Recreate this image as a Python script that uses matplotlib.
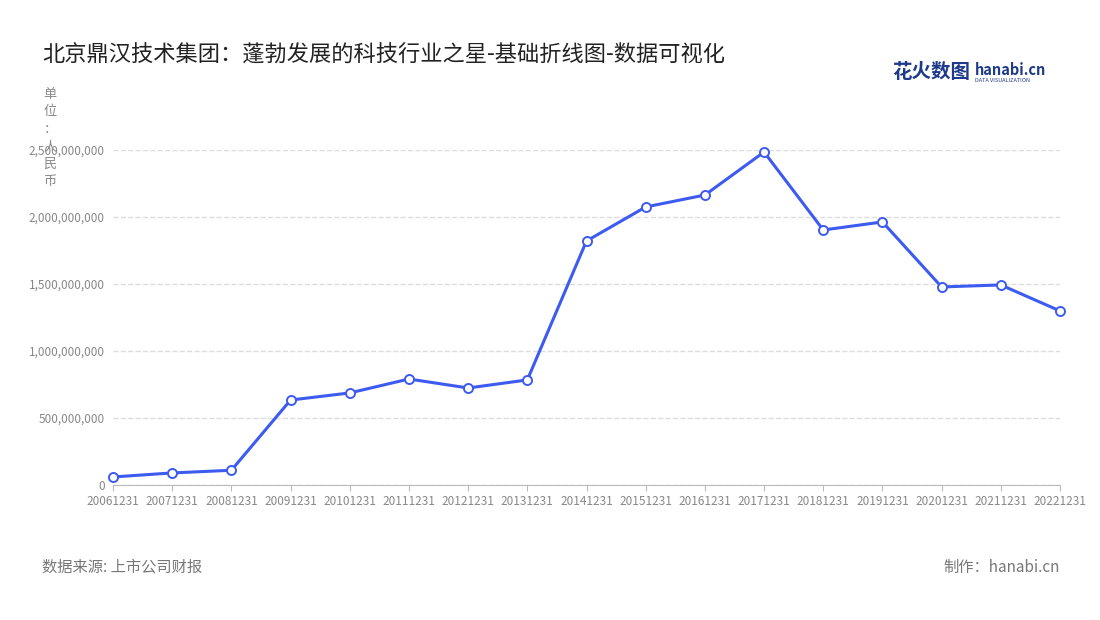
import matplotlib.pyplot as plt

plt.rcParams['font.family'] = ['Noto Sans CJK SC', 'DejaVu Sans']

years = ['20061231', '20071231', '20081231', '20091231', '20101231', '20111231',
         '20121231', '20131231', '20141231', '20151231', '20161231', '20171231',
         '20181231', '20191231', '20201231', '20211231', '20221231']
values = [60e6, 90e6, 110e6, 634e6, 687e6, 791e6, 724e6, 784e6, 1821e6,
          2075e6, 2164e6, 2485e6, 1903e6, 1963e6, 1478e6, 1493e6, 1299e6]
yticks = [0, 500e6, 1000e6, 1500e6, 2000e6, 2500e6]

fig = plt.figure(figsize=(11, 6.2), dpi=100)
ax = fig.add_axes([113 / 1100, 1 - 485 / 620, (1060 - 113) / 1100, (485 - 150) / 620])

x = range(len(years))
ax.plot(x, values, color='#3d5af1', lw=2.2, marker='o', ms=6.5,
        markerfacecolor='white', markeredgecolor='#3d5af1', markeredgewidth=1.4,
        zorder=3, clip_on=False)

ax.set_xlim(0, len(years) - 1)
ax.set_ylim(0, 2500e6)
ax.set_xticks(list(x))
ax.set_xticklabels(years, fontsize=8.5, color='#888888')
ax.set_yticks(yticks)
ax.set_yticklabels([f'{int(v):,}' for v in yticks], fontsize=8.5, color='#888888')
ax.grid(axis='y', color='#dddddd', ls='--', lw=1)
for s in ['top', 'right', 'left']:
    ax.spines[s].set_visible(False)
ax.spines['bottom'].set_color('#bbbbbb')
ax.tick_params(axis='y', length=0, pad=6)
ax.tick_params(axis='x', length=4, color='#bbbbbb', pad=3)

fig.text(42 / 1100, 1 - 55 / 620, '北京鼎汉技术集团：蓬勃发展的科技行业之星-基础折线图-数据可视化',
         fontsize=16, color='#222222', va='center')
fig.text(50 / 1100, 1 - 88 / 620, '单\n位\n：\n人\n民\n币', fontsize=9.5, color='#888888',
         va='top', ha='center', linespacing=1.45)
fig.text(892 / 1100, 1 - 72 / 620, '花火数图', fontsize=14, color='#1f3a8a',
         fontweight='bold', va='center')
fig.text(975 / 1100, 1 - 70 / 620, 'hanabi.cn', fontsize=10.5, color='#1f3a8a',
         fontweight='bold', va='center')
fig.text(975 / 1100, 1 - 80 / 620, 'DATA VISUALIZATION', fontsize=4, color='#1f3a8a',
         va='center')
fig.text(42 / 1100, 1 - 567 / 620, '数据来源: 上市公司财报', fontsize=11, color='#777777', va='center')
fig.text(1060 / 1100, 1 - 567 / 620, '制作：hanabi.cn', fontsize=11, color='#777777',
         va='center', ha='right')

fig.savefig('out.png', dpi=100)
